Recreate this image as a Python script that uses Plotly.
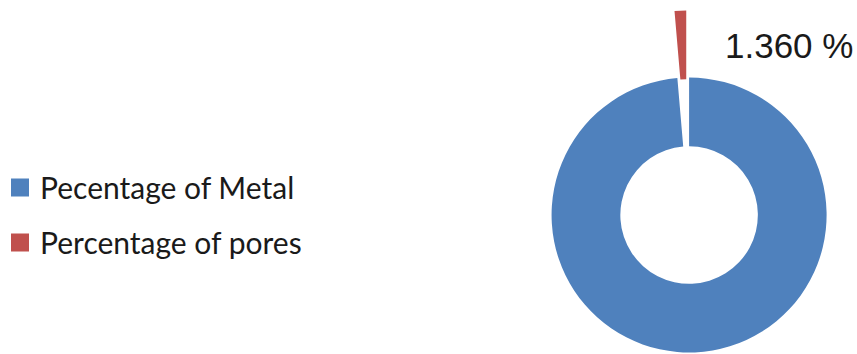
import math
import plotly.graph_objects as go

# Composition of the sample (percent)
labels = ["Pecentage of Metal", "Percentage of pores"]
values = [98.64, 1.36]
colors = ["#4F81BD", "#C0504D"]
clear = "rgba(0,0,0,0)"

W, H = 857, 354
# ring geometry in pixels
cx, cy, R = 688.5, 215.0, 138.0
HOLE = 0.5
PULL = 0.485  # how far the pores slice is pulled out, as a fraction of R


def pie_domain(x0, y0, r):
    return dict(x=[(x0 - r) / W, (x0 + r) / W],
                y=[(H - y0 - r) / H, (H - y0 + r) / H])


# the pores slice lies just left of 12 o'clock; shift its copy along the bisector
half = math.pi * values[1] / sum(values)
px = cx - R * PULL * math.sin(half)
py = cy - R * PULL * math.cos(half)

fig = go.Figure()

# main ring: metal share drawn, pores share left empty
fig.add_trace(go.Pie(
    labels=labels, values=values, hole=HOLE, sort=False,
    direction="clockwise", rotation=0,
    marker=dict(colors=[colors[0], clear], line=dict(width=0)),
    textinfo="none", hoverinfo="label+value", showlegend=False,
    domain=pie_domain(cx, cy, R),
))

# pulled-out pores slice
fig.add_trace(go.Pie(
    labels=labels, values=values, hole=HOLE, sort=False,
    direction="clockwise", rotation=0,
    marker=dict(colors=[clear, colors[1]], line=dict(width=0)),
    textinfo="none", hoverinfo="label+value", showlegend=False,
    domain=pie_domain(px, py, R),
))

# legend entries
for i, (lab, col) in enumerate(zip(labels, colors)):
    fig.add_trace(go.Scatter(
        x=[None], y=[None], mode="markers", name=lab, legendgroup=f"g{i}",
        marker=dict(symbol="square", size=16, color=col,
                    line=dict(width=2, color=col)),
    ))

fig.add_annotation(
    text=f"{values[1]:.3f} %", xref="paper", yref="paper",
    x=723 / W, y=1 - 45 / H, xanchor="left", yanchor="middle",
    showarrow=False,
    font=dict(family="Liberation Sans, Arial", size=35, color="#1a1a1a"),
)

fig.update_layout(
    width=W, height=H,
    margin=dict(l=0, r=0, t=0, b=0),
    paper_bgcolor="white", plot_bgcolor="white",
    xaxis=dict(visible=False), yaxis=dict(visible=False),
    legend=dict(
        x=-3 / W, y=1 - 215 / H, xanchor="left", yanchor="middle",
        traceorder="grouped", tracegroupgap=13,
        font=dict(family="Lato", size=30, color="#1a1a1a"),
        bgcolor=clear,
    ),
)

fig.write_html("out.html")
